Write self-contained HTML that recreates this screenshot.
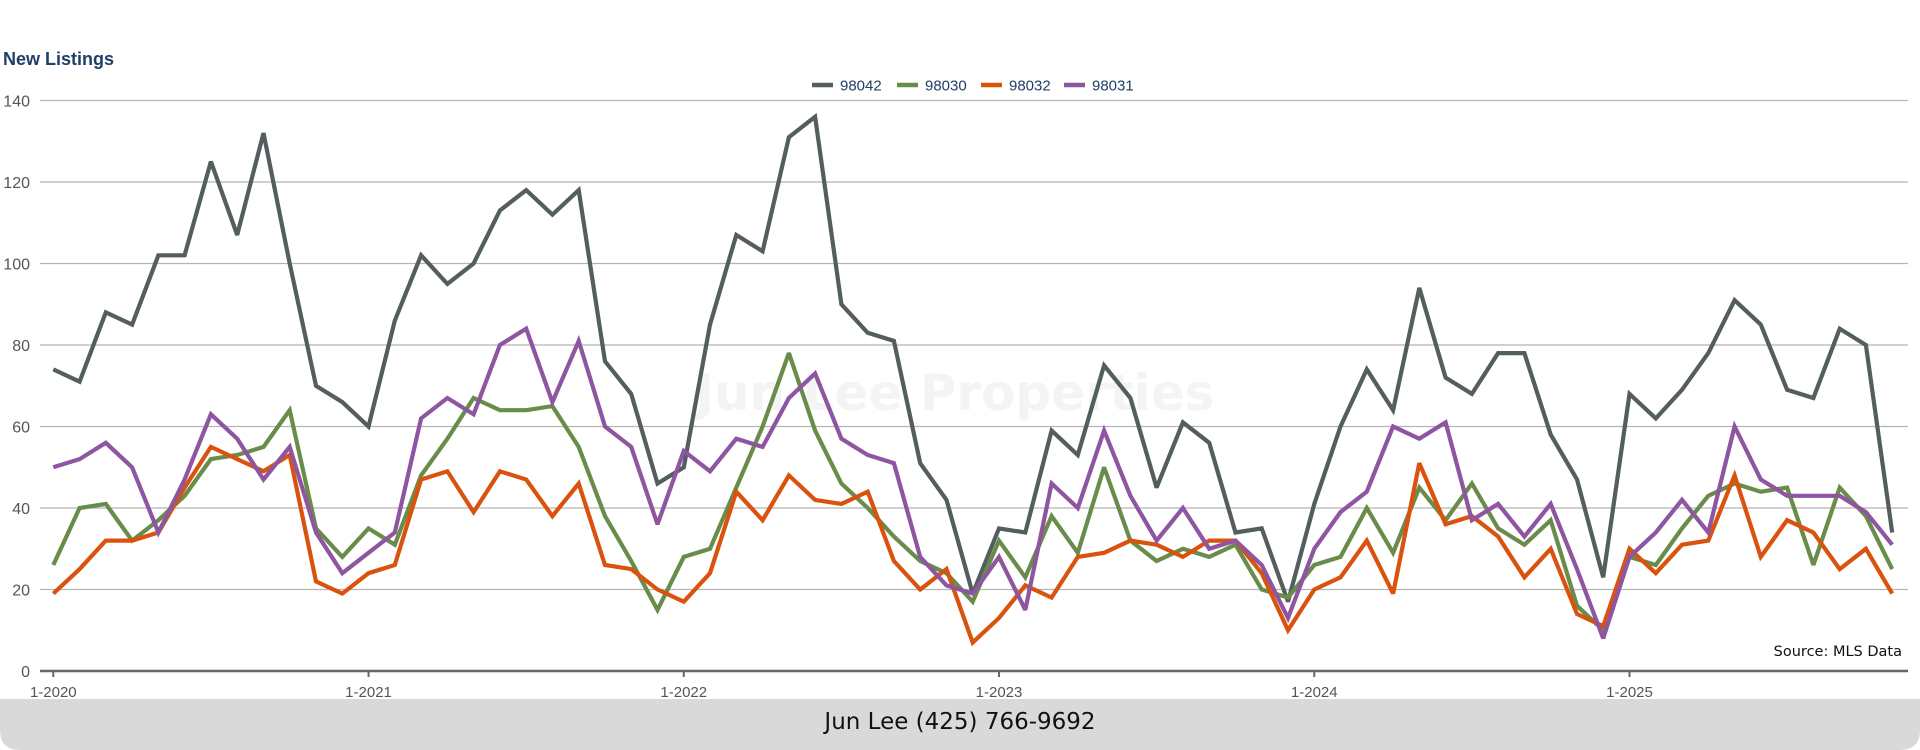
<!DOCTYPE html>
<html><head><meta charset="utf-8"><style>
html,body{margin:0;padding:0;background:#fff;}
body{width:1920px;height:750px;position:relative;overflow:hidden;font-family:"Liberation Sans",sans-serif;}
svg{position:absolute;left:0;top:0;}
</style></head><body>
<svg id="chart" width="1920" height="750"></svg>
<script>
const categories = (function(){const a=[];for(let y=2020;y<=2025;y++)for(let m=1;m<=12;m++)a.push(m+'-'+y);return a.slice(0,71);})();
const seriesNames = ['98042','98030','98032','98031'];
const s98042 = [74,71,88,85,102,102,125,107,132,100,70,66, 60,86,102,95,100,113,118,112,118,76,68,46, 50,85,107,103,131,136,90,83,81,51,42,19, 35,34,59,53,75,67,45,61,56,34,35,17, 41,60,74,64,94,72,68,78,78,58,47,23, 68,62,69,78,91,85,69,67,84,80,34];
const s98030 = [26,40,41,32,37,43,52,53,55,64,35,28, 35,31,48,57,67,64,64,65,55,38,27,15, 28,30,45,60,78,59,46,40,33,27,24,17, 32,23,38,29,50,32,27,30,28,31,20,18, 26,28,40,29,45,37,46,35,31,37,16,10, 28,26,35,43,46,44,45,26,45,38,25];
const s98032 = [19,25,32,32,34,45,55,52,49,53,22,19, 24,26,47,49,39,49,47,38,46,26,25,20, 17,24,44,37,48,42,41,44,27,20,25,7, 13,21,18,28,29,32,31,28,32,32,24,10, 20,23,32,19,51,36,38,33,23,30,14,11, 30,24,31,32,48,28,37,34,25,30,19];
const s98031 = [50,52,56,50,34,47,63,57,47,55,34,24, 29,34,62,67,63,80,84,66,81,60,55,36, 54,49,57,55,67,73,57,53,51,28,21,19, 28,15,46,40,59,43,32,40,30,32,26,13, 30,39,44,60,57,61,37,41,33,41,25,8, 28,34,42,34,60,47,43,43,43,39,31];
const yTicks = [0,20,40,60,80,100,120,140];
const xTickLabels = ['1-2020','1-2021','1-2022','1-2023','1-2024','1-2025'];

const NS='http://www.w3.org/2000/svg';
const svg=document.getElementById('chart');
const colors=['#545e5e','#6a8c4a','#d9530e','#8e55a0'];
const X0=53.3, MW=26.27, Y0=671, YK=(671-100.5)/140;
function xS(i){return X0+i*MW;}
function yS(v){return Y0-v*YK;}
function mk(tag,attrs,parent){const e=document.createElementNS(NS,tag);for(const k in attrs)e.setAttribute(k,attrs[k]);(parent||svg).appendChild(e);return e;}

// footer band
let e=mk('path',{d:'M0 699 H1920 V730 Q1920 750 1900 750 H20 Q0 750 0 730 Z',fill:'#d9d9d9'});


e=mk('text',{x:960,y:729,'text-anchor':'middle','font-size':'23','fill':'#111','font-family':'"DejaVu Sans","Liberation Sans",sans-serif'});
e.textContent='Jun Lee (425) 766-9692';



// title
e=mk('text',{x:3,y:65,'font-size':'18','font-weight':'bold',fill:'#1f3f66'});
e.textContent='New Listings';



// watermark
e=mk('text',{x:955,y:410,'text-anchor':'middle','font-size':'50','font-weight':'bold',fill:'#f4f4f4','font-family':'"DejaVu Sans",sans-serif'});
e.textContent='Jun Lee Properties';



// gridlines & y labels
yTicks.forEach(v=>{
  if(v>0){const g=mk('line',{x1:40,x2:1908,y1:yS(v),y2:yS(v),stroke:'#b5b5b5','stroke-width':1.3});
  
  }
  const t=mk('text',{x:30,y:yS(v)+6,'text-anchor':'end','font-size':'16',fill:'#555'});
  t.textContent=v;
  
  
});
// x axis
e=mk('line',{x1:40,x2:1908,y1:Y0,y2:Y0,stroke:'#666','stroke-width':2.5});


xTickLabels.forEach((lab,k)=>{
  const i=categories.indexOf(lab);
  const tk=mk('line',{x1:xS(i),x2:xS(i),y1:Y0,y2:Y0+6,stroke:'#666','stroke-width':2});
  
  
  const t=mk('text',{x:xS(i),y:697,'text-anchor':'middle','font-size':'15',fill:'#555'});
  t.textContent=lab;
  
  
});

// series
[s98042,s98030,s98032,s98031].forEach((arr,si)=>{
  const d=arr.map((v,i)=>(i?'L':'M')+xS(i).toFixed(1)+' '+yS(v).toFixed(1)).join(' ');
  const p=mk('path',{d:d,fill:'none',stroke:colors[si],'stroke-width':4.2,'stroke-linejoin':'miter','stroke-miterlimit':3});
  
  
});

// legend
const legX=[812,897,981,1064];
seriesNames.forEach((n,si)=>{
  const g=mk('g',{});
  
  
  mk('line',{x1:legX[si],x2:legX[si]+21,y1:85,y2:85,stroke:colors[si],'stroke-width':4.5},g);
  const t=mk('text',{x:legX[si]+28,y:90.5,'font-size':'15',fill:'#1f3f66'},g);
  t.textContent=n;
});

// source
e=mk('text',{x:1902,y:656,'text-anchor':'end','font-size':'14.5',fill:'#111','font-family':'"DejaVu Sans","Liberation Sans",sans-serif'});
e.textContent='Source: MLS Data';


</script>
</body></html>
